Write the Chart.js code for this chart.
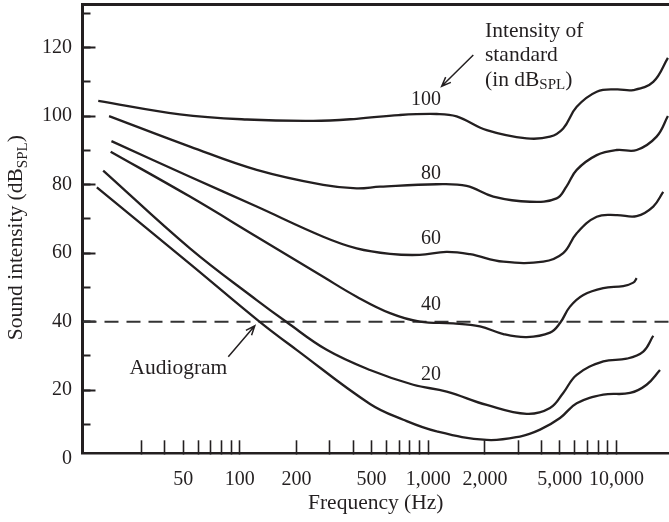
<!DOCTYPE html>
<html>
<head>
<meta charset="utf-8">
<script src="https://cdn.jsdelivr.net/npm/chart.js@4.4.0/dist/chart.umd.min.js"></script>
<style>
  html, body { margin: 0; padding: 0; background: #fff; }
  #wrap { width: 669px; height: 522px; }
</style>
</head>
<body>
<div id="wrap"><canvas id="chart"></canvas></div>
<script>
// equal-loudness contours (dB SPL vs Hz)
const curve100Hz = [17.7, 48, 109, 245, 417, 700, 1110, 1416, 2046, 3334, 4436, 5212, 6148, 7852, 10020, 12280, 15670, 18750];
const curve100dB = [104.4, 100.5, 99.0, 98.6, 99.2, 100.3, 100.6, 99.9, 95.9, 93.5, 94.0, 96.4, 102.7, 107.1, 107.8, 107.6, 110.0, 117.0];

const curve80Hz = [20.2, 54.3, 122.8, 277, 417, 555, 1110, 1600, 2218, 3474, 4810, 5430, 6148, 7852, 10020, 12800, 16330, 18750];
const curve80dB = [100.0, 91.1, 84.3, 79.9, 78.9, 79.4, 80.1, 79.6, 76.5, 75.0, 76.0, 79.5, 84.3, 88.6, 90.1, 90.1, 94.0, 100.0];

const curve60Hz = [20.8, 54.3, 122.8, 277, 417, 627, 900, 1250, 1667, 2506, 4083, 5212, 6148, 7852, 10020, 12800, 15670, 17700];
const curve60dB = [92.7, 82.3, 73.6, 64.8, 61.4, 59.8, 59.5, 60.4, 59.7, 57.5, 57.5, 60.0, 65.8, 70.6, 71.1, 70.8, 73.6, 77.9];

const curve40Hz = [20.6, 54.3, 122.8, 277, 417, 627, 904, 1359, 1884, 2506, 3334, 4436, 5012, 5662, 6668, 8511, 10860, 12280, 12800];
const curve40dB = [89.6, 76.5, 64.8, 53.1, 47.3, 42.5, 40.0, 39.5, 38.6, 36.4, 35.5, 36.8, 39.6, 44.4, 47.8, 49.8, 50.4, 51.4, 52.7];

const curve20Hz = [18.8, 54.3, 122.8, 177, 289, 491, 833, 1254, 2046, 3334, 4436, 5212, 6148, 8511, 11330, 13870, 15670];
const curve20dB = [84.1, 61.4, 46.3, 39.9, 31.8, 25.9, 21.6, 19.6, 15.7, 13.1, 14.8, 19.2, 24.5, 28.4, 29.2, 31.3, 35.9];

const audiogramHz = [17.4, 54.3, 128, 200, 491, 738, 1110, 2046, 3070, 3926, 5012, 6148, 8511, 11800, 14450, 17020];
const audiogramDb = [79.2, 56.9, 39.9, 31.8, 16.0, 11.4, 8.0, 5.5, 6.5, 8.5, 11.9, 16.2, 18.7, 19.2, 21.6, 25.9];

const dashedLevel = 40;

const contourNames = ['100', '80', '60', '40', '20'];
const xTickValues = [30, 40, 50, 60, 70, 80, 90, 100, 200, 300, 400, 500, 600, 700, 800, 900, 1000,
  2000, 3000, 4000, 5000, 6000, 7000, 8000, 9000, 10000];
const xLabelValues = [50, 100, 200, 500, 1000, 2000, 5000, 10000];
const yTickValues = [0, 10, 20, 30, 40, 50, 60, 70, 80, 90, 100, 110, 120, 130];
const yMajorValues = [20, 40, 60, 80, 100, 120];

const xMin = 14.6, xMax = 19000;
const yMin = 1.6, yMax = 132.7;

const ink = '#231f20';
const serif = "'Liberation Serif', 'Times New Roman', serif";
const wordFont = '21.5px ' + serif;
const subFont = '15px ' + serif;
const digitFont = '20px ' + serif;

function contour(hz, db) {
  return {
    data: hz.map((f, i) => ({ x: f, y: db[i] })),
    borderColor: ink,
    borderWidth: 2.3,
    pointRadius: 0,
    tension: 0.4,
    fill: false
  };
}

// text made of plain and subscript pieces, left aligned
function richWidth(ctx, parts) {
  let w = 0;
  parts.forEach(p => { ctx.font = p.sub ? subFont : wordFont; w += ctx.measureText(p.t).width; });
  return w;
}
function richText(ctx, parts, x, y) {
  let cx = x;
  parts.forEach(p => {
    ctx.font = p.sub ? subFont : wordFont;
    ctx.fillText(p.t, cx, p.sub ? y + 5 : y);
    cx += ctx.measureText(p.t).width;
  });
}
function arrow(ctx, x1, y1, x2, y2) {
  const a = Math.atan2(y2 - y1, x2 - x1), h = 10, s = 0.38;
  ctx.beginPath();
  ctx.moveTo(x1, y1);
  ctx.lineTo(x2, y2);
  ctx.moveTo(x2 - h * Math.cos(a - s), y2 - h * Math.sin(a - s));
  ctx.lineTo(x2, y2);
  ctx.lineTo(x2 - h * Math.cos(a + s), y2 - h * Math.sin(a + s));
  ctx.stroke();
}

const annotations = {
  id: 'annotations',
  afterDraw(chart) {
    const { ctx, chartArea } = chart;
    const x = chart.scales.x, y = chart.scales.y;
    ctx.save();
    ctx.fillStyle = ink;
    ctx.strokeStyle = ink;
    ctx.lineWidth = 1.5;

    // y axis title with subscript
    const title = [{ t: 'Sound intensity (dB' }, { t: 'SPL', sub: true }, { t: ')' }];
    ctx.save();
    ctx.translate(21.5, (chartArea.top + chartArea.bottom) / 2 + 9);
    ctx.rotate(-Math.PI / 2);
    ctx.textBaseline = 'alphabetic';
    richText(ctx, title, -richWidth(ctx, title) / 2, 0);
    ctx.restore();

    // contour labels
    ctx.textBaseline = 'middle';
    ctx.textAlign = 'right';
    ctx.font = digitFont;
    const labelDb = [104.7, 83.3, 64.3, 44.9, 24.5];
    contourNames.forEach((t, i) => ctx.fillText(t, x.getPixelForValue(1170), y.getPixelForValue(labelDb[i])));

    // key text
    ctx.textAlign = 'left';
    const kx = x.getPixelForValue(2003);
    richText(ctx, [{ t: 'Intensity of' }], kx, y.getPixelForValue(124.6));
    richText(ctx, [{ t: 'standard' }], kx, y.getPixelForValue(117.8));
    richText(ctx, [{ t: '(in dB' }, { t: 'SPL', sub: true }, { t: ')' }], kx, y.getPixelForValue(110.5));
    arrow(ctx, x.getPixelForValue(1736), y.getPixelForValue(117.8), x.getPixelForValue(1179), y.getPixelForValue(108.7));

    richText(ctx, [{ t: 'Audiogram' }], x.getPixelForValue(25.9), y.getPixelForValue(26.5));
    arrow(ctx, x.getPixelForValue(86.8), y.getPixelForValue(29.8), x.getPixelForValue(120), y.getPixelForValue(38.8));
    ctx.restore();
  }
};

const tickFont = { family: serif, size: 20 };
const titleFont = { family: serif, size: 21.5 };

new Chart(document.getElementById('chart'), {
  type: 'line',
  data: {
    datasets: [
      contour(curve100Hz, curve100dB),
      contour(curve80Hz, curve80dB),
      contour(curve60Hz, curve60dB),
      contour(curve40Hz, curve40dB),
      contour(curve20Hz, curve20dB),
      contour(audiogramHz, audiogramDb),
      {
        data: [{ x: xMin, y: dashedLevel }, { x: xMax, y: dashedLevel }],
        borderColor: '#333',
        borderWidth: 2,
        borderDash: [14, 8],
        pointRadius: 0
      }
    ]
  },
  options: {
    responsive: true,
    maintainAspectRatio: false,
    animation: false,
    layout: { padding: { top: 4, left: 0, right: 0, bottom: 0 }, autoPadding: false },
    plugins: { legend: { display: false }, tooltip: { enabled: false } },
    scales: {
      x: {
        type: 'logarithmic',
        position: 'bottom',
        min: xMin,
        max: xMax,
        border: { display: true, color: ink, width: 2.5 },
        grid: { drawOnChartArea: false, tickLength: -13, tickWidth: 1.6, tickColor: ink },
        ticks: {
          autoSkip: false,
          maxRotation: 0,
          padding: 27,
          color: ink,
          font: tickFont,
          callback: v => xLabelValues.includes(v) ? v.toLocaleString('en-US') : ''
        },
        title: { display: true, text: 'Frequency (Hz)', color: ink, font: titleFont, padding: { top: 0, bottom: 5.6 } },
        afterBuildTicks: s => { s.ticks = xTickValues.map(v => ({ value: v })); },
        afterFit: s => { s.height = 68.7; s.paddingLeft = 0; s.paddingRight = 0; }
      },
      xTop: {
        type: 'linear',
        position: 'top',
        border: { display: true, color: ink, width: 3 },
        grid: { display: false, drawTicks: false },
        ticks: { display: false },
        afterFit: s => { s.height = 0; }
      },
      y: {
        type: 'linear',
        position: 'left',
        weight: 1,
        min: yMin,
        max: yMax,
        border: { display: true, color: ink, width: 3 },
        grid: {
          drawOnChartArea: false,
          tickLength: -8,
          tickWidth: 2,
          tickColor: c => (c.tick && c.tick.value === 0) ? 'rgba(0,0,0,0)' : ink
        },
        ticks: {
          padding: 18.5,
          color: ink,
          font: tickFont,
          callback: v => v % 20 === 0 ? String(v) : ''
        },
        afterBuildTicks: s => { s.ticks = yTickValues.map(v => ({ value: v })); },
        afterFit: s => { s.width = 82.5; s.paddingTop = 0; s.paddingBottom = 0; }
      },
      yMajor: {
        type: 'linear',
        position: 'left',
        weight: 0,
        min: yMin,
        max: yMax,
        border: { display: false },
        grid: { drawOnChartArea: false, tickLength: -13, tickWidth: 2, tickColor: ink },
        ticks: { display: false },
        afterBuildTicks: s => { s.ticks = yMajorValues.map(v => ({ value: v })); },
        afterFit: s => { s.width = 0; s.paddingTop = 0; s.paddingBottom = 0; }
      }
    }
  },
  plugins: [annotations]
});
</script>
</body>
</html>
